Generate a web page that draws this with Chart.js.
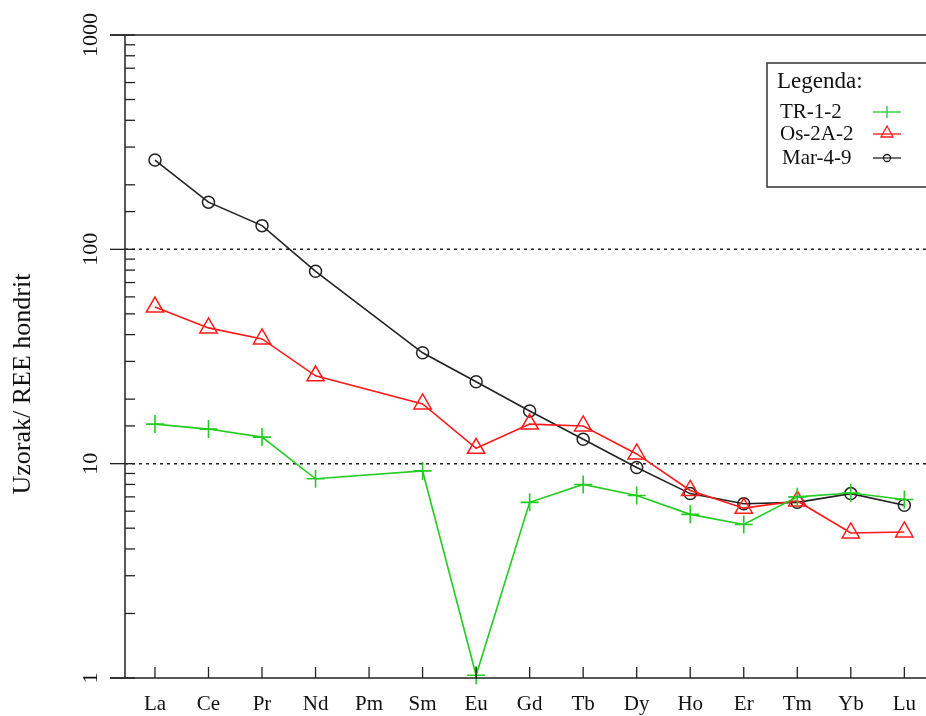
<!DOCTYPE html>
<html>
<head>
<meta charset="utf-8">
<script src="https://cdn.jsdelivr.net/npm/chart.js@4"></script>
<style>
  html, body { margin: 0; background: #fff; overflow: hidden; }
  #wrap { width: 926px; height: 716px; position: relative; }
</style>
</head>
<body>
<div id="wrap"><canvas id="grafico"></canvas></div>
<script>
// Elementi (REE) normalizzati a hondrit
const elementi = ["La", "Ce", "Pr", "Nd", "Pm", "Sm", "Eu", "Gd", "Tb", "Dy", "Ho", "Er", "Tm", "Yb", "Lu"];
const tr12  = [15.3, 14.5, 13.3, 8.5, null, 9.25, 1.03, 6.6, 8.0, 7.1, 5.8, 5.2, 7.0, 7.3, 6.8];
const os2a2 = [53.8, 43, 38.2, 25.7, null, 19.0, 11.8, 15.3, 15.0, 11.1, 7.5, 6.2, 6.7, 4.75, 4.8];
const mar49 = [261, 166, 129, 79, null, 32.9, 24.1, 17.6, 13.0, 9.6, 7.25, 6.5, 6.6, 7.25, 6.4];
const yTicks = [1, 10, 100, 1000];
const lineeTratteggiate = [10, 100];

const serif = "'Liberation Serif', 'DejaVu Serif', serif";
const punti = arr => arr.map((v, i) => ({ x: i, y: v }));

// linee punteggiate sotto i dati
const griglia = {
    id: "griglia",
    beforeDatasetsDraw(chart) {
        const c = chart.ctx;
        const a = chart.chartArea;
        const ys = chart.scales.y;
        c.save();
        c.strokeStyle = "#222";
        c.lineWidth = 1.5;
        c.setLineDash([3, 4]);
        lineeTratteggiate.forEach(v => {
            const y = ys.getPixelForValue(v);
            c.beginPath(); c.moveTo(a.left, y); c.lineTo(chart.width, y); c.stroke();
        });
        c.restore();
    }
};

// assi, tacche, etichette e legenda disegnati a mano
const assi = {
    id: "assi",
    afterDraw(chart) {
        const c = chart.ctx;
        const a = chart.chartArea;
        const ys = chart.scales.y;
        const xs = chart.scales.x;
        c.save();
        c.strokeStyle = "#222";
        c.fillStyle = "#111";
        c.lineWidth = 1.5;
        c.beginPath();
        c.moveTo(a.left - 15, a.top); c.lineTo(chart.width, a.top);
        c.moveTo(a.left - 15, a.bottom); c.lineTo(chart.width, a.bottom);
        c.moveTo(a.left, a.top); c.lineTo(a.left, a.bottom);
        c.stroke();

        // tacche y (log)
        c.lineWidth = 1.3;
        ys.ticks.forEach(t => {
            const y = ys.getPixelForValue(t.value);
            const major = yTicks.includes(t.value);
            c.beginPath();
            c.moveTo(major ? a.left - 15 : a.left, y);
            c.lineTo(a.left + 10, y);
            c.stroke();
        });
        c.font = "22px " + serif;
        c.textAlign = "center";
        c.textBaseline = "middle";
        yTicks.forEach(v => {
            const y = ys.getPixelForValue(v);
            c.save();
            c.translate(a.left - 34, y);
            c.rotate(-Math.PI / 2);
            c.fillText(String(v), 0, 0);
            c.restore();
        });

        // tacche ed etichette x
        c.font = "21px " + serif;
        elementi.forEach((e, i) => {
            const x = xs.getPixelForValue(i);
            c.beginPath();
            c.moveTo(x, a.bottom - 11); c.lineTo(x, a.bottom);
            c.stroke();
            c.fillText(e, x, a.bottom + 26);
        });

        // titolo asse y
        c.save();
        c.font = "26px " + serif;
        c.translate(23, 384);
        c.rotate(-Math.PI / 2);
        c.fillText("Uzorak/ REE hondrit", 0, 0);
        c.restore();

        // legenda
        const lx = 767, ly = 63;
        c.lineWidth = 1.5;
        c.strokeStyle = "#333";
        c.fillStyle = "#fff";
        c.fillRect(lx, ly, 200, 124);
        c.strokeRect(lx, ly, 200, 124);
        c.fillStyle = "#111";
        c.textAlign = "left";
        c.font = "23px " + serif;
        c.fillText("Legenda:", lx + 10, ly + 19);
        c.font = "21px " + serif;
        const righe = [ly + 49, ly + 71, ly + 95];
        chart.data.datasets.forEach((ds, k) => {
            const y = righe[k];
            c.fillStyle = "#111";
            c.fillText(ds.label, lx + 13 + (k === 2 ? 2 : 0), y);
            const x0 = 873, x1 = 901, xm = (x0 + x1) / 2;
            c.strokeStyle = ds.borderColor;
            c.lineWidth = 1.3;
            c.beginPath(); c.moveTo(x0, y); c.lineTo(x1, y); c.stroke();
            if (ds.pointStyle === "cross") {
                c.beginPath(); c.moveTo(xm, y - 6); c.lineTo(xm, y + 6); c.stroke();
            } else if (ds.pointStyle === "triangle") {
                c.beginPath();
                c.moveTo(xm, y - 8); c.lineTo(xm + 6, y + 3); c.lineTo(xm - 6, y + 3); c.closePath();
                c.stroke();
            } else {
                c.beginPath(); c.arc(xm, y, 3.5, 0, Math.PI * 2); c.stroke();
            }
        });
        c.restore();
    }
};

new Chart(document.getElementById("grafico"), {
    type: "line",
    data: {
        datasets: [
            {
                label: "TR-1-2",
                data: punti(tr12),
                borderColor: "#22cc22",
                backgroundColor: "#22cc22",
                pointStyle: "cross",
                pointRadius: 9,
                pointBorderWidth: 1.6,
                borderWidth: 1.6,
                clip: false
            },
            {
                label: "Os-2A-2",
                data: punti(os2a2),
                borderColor: "#ff1a1a",
                backgroundColor: "rgba(0,0,0,0)",
                pointStyle: "triangle",
                pointRadius: 10,
                pointBorderWidth: 1.5,
                borderWidth: 1.6,
                clip: false
            },
            {
                label: "Mar-4-9",
                data: punti(mar49),
                borderColor: "#222",
                backgroundColor: "rgba(0,0,0,0)",
                pointStyle: "circle",
                pointRadius: 6,
                pointBorderWidth: 1.5,
                borderWidth: 1.6,
                clip: false
            }
        ]
    },
    options: {
        responsive: true,
        maintainAspectRatio: false,
        animation: false,
        spanGaps: true,
        layout: { padding: { left: 125, top: 35, right: 0, bottom: 38 } },
        plugins: { legend: { display: false }, tooltip: { enabled: false } },
        scales: {
            x: {
                type: "linear",
                min: -0.56,
                max: 14.19,
                afterBuildTicks: s => { s.ticks = elementi.map((e, i) => ({ value: i })); },
                ticks: { display: false },
                grid: { display: false, drawTicks: false },
                border: { display: false }
            },
            y: {
                type: "logarithmic",
                min: 1,
                max: 1000,
                ticks: { display: false },
                grid: { display: false, drawTicks: false },
                border: { display: false }
            }
        }
    },
    plugins: [griglia, assi]
});
</script>
</body>
</html>
